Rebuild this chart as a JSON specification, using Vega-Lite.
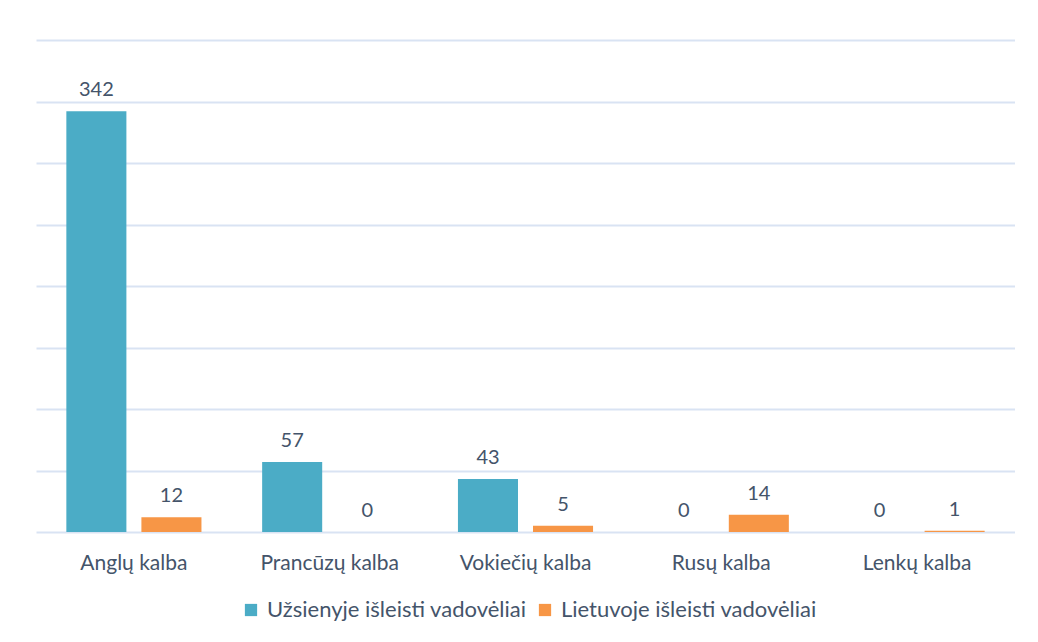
{
  "$schema": "https://vega.github.io/schema/vega-lite/v6.json",
  "width": 979,
  "height": 492,
  "padding": {"left": 36, "top": 40, "right": 0, "bottom": 0},
  "background": "white",
  "config": {"view": {"stroke": null}, "font": "Lato"},
  "data": {"values": [
    {"kalba": "Anglų kalba", "serija": "Užsienyje išleisti vadovėliai", "kiekis": 342},
    {"kalba": "Anglų kalba", "serija": "Lietuvoje išleisti vadovėliai", "kiekis": 12},
    {"kalba": "Prancūzų kalba", "serija": "Užsienyje išleisti vadovėliai", "kiekis": 57},
    {"kalba": "Prancūzų kalba", "serija": "Lietuvoje išleisti vadovėliai", "kiekis": 0},
    {"kalba": "Vokiečių kalba", "serija": "Užsienyje išleisti vadovėliai", "kiekis": 43},
    {"kalba": "Vokiečių kalba", "serija": "Lietuvoje išleisti vadovėliai", "kiekis": 5},
    {"kalba": "Rusų kalba", "serija": "Užsienyje išleisti vadovėliai", "kiekis": 0},
    {"kalba": "Rusų kalba", "serija": "Lietuvoje išleisti vadovėliai", "kiekis": 14},
    {"kalba": "Lenkų kalba", "serija": "Užsienyje išleisti vadovėliai", "kiekis": 0},
    {"kalba": "Lenkų kalba", "serija": "Lietuvoje išleisti vadovėliai", "kiekis": 1}
  ]},
  "encoding": {
    "x": {
      "field": "kalba", "type": "nominal", "sort": null,
      "scale": {"paddingInner": 0.31, "paddingOuter": 0.155},
      "axis": {"title": null, "labelAngle": 0, "ticks": false, "domain": false, "labelPadding": 20, "labelFontSize": 21, "labelColor": "#44546A", "labelFont": "Lato", "labelLimit": 0}
    },
    "xOffset": {
      "field": "serija", "type": "nominal", "sort": ["Užsienyje išleisti vadovėliai", "Lietuvoje išleisti vadovėliai"],
      "scale": {"paddingInner": 0.2, "paddingOuter": 0}
    },
    "y": {
      "field": "kiekis", "type": "quantitative",
      "scale": {"domain": [0, 400], "nice": false},
      "axis": {"title": null, "labels": false, "ticks": false, "domain": false, "values": [0, 50, 100, 150, 200, 250, 300, 350, 400], "gridColor": "#D9E3F3", "gridWidth": 2, "gridOpacity": 1}
    }
  },
  "layer": [
    {
      "mark": {"type": "bar"},
      "encoding": {
        "color": {
          "field": "serija", "type": "nominal",
          "sort": ["Užsienyje išleisti vadovėliai", "Lietuvoje išleisti vadovėliai"],
          "scale": {"domain": ["Užsienyje išleisti vadovėliai", "Lietuvoje išleisti vadovėliai"], "range": ["#4BACC6", "#F79646"]},
          "legend": {"title": null, "orient": "none", "direction": "horizontal", "legendX": 204, "legendY": 559, "symbolType": "square", "symbolSize": 150, "symbolStrokeWidth": 0, "labelFontSize": 22, "labelColor": "#44546A", "labelFont": "Lato", "labelLimit": 0, "columnPadding": 7, "labelOffset": 5}
        }
      }
    },
    {
      "mark": {"type": "text", "baseline": "bottom", "dy": -11, "fontSize": 20, "color": "#44546A", "font": "Lato"},
      "encoding": {"text": {"field": "kiekis", "type": "quantitative"}}
    }
  ]
}
